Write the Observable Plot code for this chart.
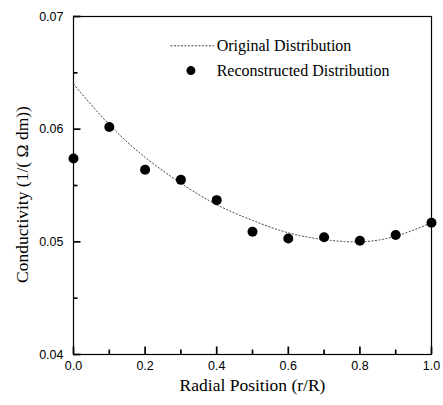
<!DOCTYPE html>
<html><head><meta charset="utf-8">
<script src="https://cdn.jsdelivr.net/npm/d3@7"></script>
<script src="https://cdn.jsdelivr.net/npm/@observablehq/plot@0.6"></script>
<style>body{margin:0;background:#fff}</style>
</head><body><div id="chart"></div>
<script>
const positions = [0.0, 0.1, 0.2, 0.3, 0.4, 0.5, 0.6, 0.7, 0.8, 0.9, 1.0];
const originalValues = [0.0640, 0.0604, 0.0575, 0.0552, 0.0533, 0.0519, 0.0508, 0.0502, 0.0500, 0.0505, 0.0517];
const reconstructedValues = [0.0574, 0.0602, 0.0564, 0.0555, 0.0537, 0.0509, 0.0503, 0.0504, 0.0501, 0.0506, 0.0517];
const xMajorTicks = [0.0, 0.2, 0.4, 0.6, 0.8, 1.0];
const xMinorTicks = [0.1, 0.3, 0.5, 0.7, 0.9];
const yMajorTicks = [0.04, 0.05, 0.06, 0.07];
const yMinorTicks = [0.045, 0.055, 0.065];
const legendLabels = ["Original Distribution", "Reconstructed Distribution"];

const original = positions.map((x, i) => ({x, y: originalValues[i]}));
const reconstructed = positions.map((x, i) => ({x, y: reconstructedValues[i]}));

const serif = "'Liberation Serif', 'Times New Roman', serif";
const sans = "'Liberation Sans', Arial, sans-serif";

const W = 443, H = 405, ML = 73, MR = 12, MT = 16, MB = 51;
const FW = W - ML - MR, FH = H - MT - MB;
const xDom = [0, 1], yDom = [0.04, 0.07];
// convert pixel tick lengths to data units
const xLen = (px) => px * (xDom[1] - xDom[0]) / FW;
const yLen = (px) => px * (yDom[1] - yDom[0]) / FH;

const chart = Plot.plot({
  width: W,
  height: H,
  marginLeft: ML,
  marginRight: MR,
  marginTop: MT,
  marginBottom: MB,
  style: {fontFamily: sans, fontSize: "12.5px", color: "#000", background: "#fff"},
  x: {domain: xDom},
  y: {domain: yDom},
  marks: [
    // inward ticks
    Plot.ruleX(xMajorTicks, {x: (d) => d, y1: yDom[0], y2: yDom[0] + yLen(7.5), stroke: "#000", strokeWidth: 1.7}),
    Plot.ruleX(xMinorTicks, {x: (d) => d, y1: yDom[0], y2: yDom[0] + yLen(4.5), stroke: "#000", strokeWidth: 1.7}),
    Plot.ruleY(yMajorTicks, {y: (d) => d, x1: xDom[0], x2: xDom[0] + xLen(7.5), stroke: "#000", strokeWidth: 1.7}),
    Plot.ruleY(yMinorTicks, {y: (d) => d, x1: xDom[0], x2: xDom[0] + xLen(4.5), stroke: "#000", strokeWidth: 1.7}),
    Plot.frame({stroke: "#000", strokeWidth: 1.2}),
    // tick labels
    Plot.axisX({ticks: xMajorTicks, tickSize: 0, tickPadding: 7, tickFormat: d3.format(".1f"), fontSize: 12.5, label: null}),
    Plot.axisY({ticks: yMajorTicks, tickSize: 0, tickPadding: 10, tickFormat: d3.format(".2f"), fontSize: 12.5, label: null}),
    // data
    Plot.line(original, {x: "x", y: "y", curve: "natural", stroke: "#444", strokeWidth: 1, strokeDasharray: "1.2,2.3"}),
    Plot.dot(reconstructed, {x: "x", y: "y", r: 5, fill: "#000", stroke: "none"}),
    // legend
    Plot.line([0, 1], {x: (d) => 0.272 + d * 0.12, y: () => 0.0674, stroke: "#444", strokeWidth: 1, strokeDasharray: "1.2,2.3"}),
    Plot.dot([0], {x: () => 0.328, y: () => 0.0652, r: 4.5, fill: "#000", stroke: "none"}),
    Plot.text(legendLabels, {x: () => 0.400, y: (d, i) => [0.0674, 0.0652][i], text: (d) => d, textAnchor: "start", fontFamily: serif, fontSize: 16, fill: "#000"}),
    // axis titles
    Plot.text(["Radial Position (r/R)"], {frameAnchor: "bottom", dy: 36, text: (d) => d, fontFamily: serif, fontSize: 17.5, fill: "#000"}),
    Plot.text(["Conductivity (1/( \u03a9 dm))"], {frameAnchor: "left", textAnchor: "middle", dx: -51, dy: 9, rotate: -90, text: (d) => d, fontFamily: serif, fontSize: 17.5, fill: "#000"})
  ]
});
document.getElementById("chart").appendChild(chart);
</script>
</body></html>
